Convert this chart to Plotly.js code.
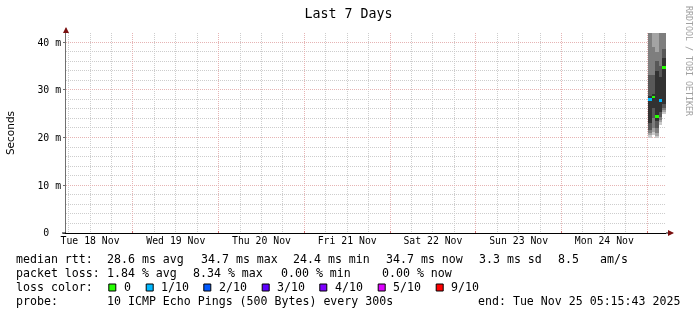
<!DOCTYPE html>
<html>
<head>
<meta charset="utf-8">
<script src="https://cdn.plot.ly/plotly-3.0.1.min.js"></script>
<style>html,body{margin:0;padding:0;background:#fff}#chart{width:697px;height:315px;will-change:transform;opacity:0.999}</style>
</head>
<body>
<div id="chart"></div>
<script>
// ---- data ----
const rangeStart = '2025-11-18 05:15:43';
const rangeEnd = '2025-11-25 05:15:43';
const dayLabels = ['Tue 18 Nov', 'Wed 19 Nov', 'Thu 20 Nov', 'Fri 21 Nov', 'Sat 22 Nov', 'Sun 23 Nov', 'Mon 24 Nov'];
const dayNoons = ['2025-11-18 12:00', '2025-11-19 12:00', '2025-11-20 12:00', '2025-11-21 12:00', '2025-11-22 12:00', '2025-11-23 12:00', '2025-11-24 12:00'];
const midnights = ['2025-11-19 00:00', '2025-11-20 00:00', '2025-11-21 00:00', '2025-11-22 00:00', '2025-11-23 00:00', '2025-11-24 00:00', '2025-11-25 00:00'];
const yTickVals = [0, 10, 20, 30, 40];
const yTickText = ['0\u00a0\u00a0', '10 m', '20 m', '30 m', '40 m'];

// consolidated samples (end time of each 1 h step), sorted ping rtts in ms
const sampleEnd = ['2025-11-25 01:15:43', '2025-11-25 02:15:43', '2025-11-25 03:15:43', '2025-11-25 04:15:43', '2025-11-25 05:15:43'];
const pingsA = [19.8, 20.6, 21.0, 21.6, 23.0, 28.6, 33.0, 45.0, 52.0, 60.0];
const pingsB = [20.6, 21.2, 22.0, 24.0, 26.2, 29.2, 33.0, 39.0, 46.0, 55.0];
const pingsC = [19.9, 20.4, 21.0, 22.0, 23.4, 34.0, 36.0, 38.0, 48.0, 52.0];
const pingsD = [22.6, 23.2, 23.6, 24.2, 25.4, 32.6, 35.0, 44.0, 48.0, 54.0];
const pingsE = [25.0, 25.4, 25.8, 26.2, 27.0, 36.6, 38.5, 45.0, 50.0, 56.0];
const medianRtt = [28.0, 28.5, 24.4, 27.7, 34.7];
const lostPings = [1, 0, 0, 1, 0];

const lossLabels = ['0', '1/10', '2/10', '3/10', '4/10', '5/10', '9/10'];
const lossCounts = [0, 1, 2, 3, 4, 5, 9];
const lossColors = ['#26ff00', '#00b8ff', '#0059ff', '#5e00ff', '#7e00ff', '#dd00ff', '#ff0000'];

const legendLine1 = ['median rtt:', '28.6 ms avg', '34.7 ms max', '24.4 ms min', '34.7 ms now', '3.3 ms sd', '8.5', 'am/s'];
const legendLine2 = ['packet loss:', '1.84 % avg', '8.34 % max', '0.00 % min', '0.00 % now'];
const legendLine3 = ['loss color:'];
const legendLine4 = ['probe:', '10 ICMP Echo Pings (500 Bytes) every 300s', 'end: Tue Nov 25 05:15:43 2025'];

// ---- layout helpers (pixel -> paper) ----
const L = 66, T = 33, W = 600, H = 200;
const px = x => (x - L) / W;
const py = y => (T + H - y) / H;
const MONO = 'DejaVu Sans Mono';

const allPings = [pingsA, pingsB, pingsC, pingsD, pingsE];
const STEP = 3600000;
const traces = [];
const nBands = 5;
for (let b = 0; b < nBands; b++) {
  const shade = Math.round(190 / nBands * (nBands - 1 - b)) + 50;
  const col = 'rgb(' + shade + ',' + shade + ',' + shade + ')';
  traces.push({
    type: 'bar', x: sampleEnd,
    base: allPings.map(p => p[b]),
    y: allPings.map(p => p[p.length - 1 - b] - p[b]),
    width: STEP, offset: -STEP,
    marker: {color: col, line: {width: 0}},
    hoverinfo: 'skip'
  });
}
const medThick = 0.6;
traces.push({
  type: 'bar', x: sampleEnd,
  base: medianRtt.map(m => m - medThick / 2),
  y: medianRtt.map(() => medThick),
  width: STEP, offset: -STEP,
  marker: {color: lostPings.map(n => lossColors[lossCounts.indexOf(n)]), line: {width: 0}},
  hoverinfo: 'skip'
});
// carrier for the label axis
traces.push({type: 'scatter', x: dayNoons, y: dayNoons.map(() => null), xaxis: 'x2', mode: 'markers', hoverinfo: 'skip'});

const annotations = [];
const shapes = [];
function textAt(t, x, y, size, color) {
  annotations.push({xref: 'paper', yref: 'paper', x: px(x), y: py(y), xanchor: 'left', yanchor: 'middle',
    text: t, showarrow: false, borderpad: 0, borderwidth: 0,
    font: {family: MONO, size: size || 11.6, color: color || '#000'}});
}
const line1X = [16.7, 107.3, 201, 293.3, 386.7, 479.3, 558.3, 600];
const line2X = [16.7, 107.3, 193.3, 281, 382.3];
const line4X = [16.7, 107.3, 478.3];
const lineY = [258.6, 272.6, 286.6, 300.6];
legendLine1.forEach((t, i) => textAt(t, line1X[i] - 0.5, lineY[0]));
legendLine2.forEach((t, i) => textAt(t, line2X[i] - 0.5, lineY[1]));
legendLine3.forEach(t => textAt(t, 16.2, lineY[2]));
legendLine4.forEach((t, i) => textAt(t, line4X[i] - 0.5, lineY[3]));
const boxX = [108.3, 145.7, 203.3, 261.7, 319.3, 377.7, 435.7];
lossLabels.forEach((t, i) => {
  shapes.push({type: 'rect', xref: 'paper', yref: 'paper', x0: px(boxX[i] + 0.5), x1: px(boxX[i] + 7.5), y0: py(284), y1: py(291),
    fillcolor: lossColors[i], line: {color: '#000', width: 1}});
  textAt(t, boxX[i] + 15.2, lineY[2]);
});

// watermark
annotations.push({xref: 'paper', yref: 'paper', x: px(689), y: py(61), xanchor: 'center', yanchor: 'middle',
  text: 'RRDTOOL / TOBI OETIKER', textangle: 90, showarrow: false, font: {family: MONO, size: 8.3, color: '#a0a0a0'}});
// axis arrows
shapes.push({type: 'line', xref: 'paper', yref: 'paper', x0: px(666), x1: px(670), y0: py(233), y1: py(233), line: {color: '#000', width: 1}});
shapes.push({type: 'line', xref: 'paper', yref: 'paper', x0: px(62), x1: px(66), y0: py(233), y1: py(233), line: {color: '#000', width: 1}});
shapes.push({type: 'line', xref: 'paper', yref: 'paper', x0: px(66), x1: px(66), y0: py(33), y1: py(30), line: {color: '#707070', width: 1}});
annotations.push({xref: 'paper', yref: 'paper', x: px(674), y: py(233), ax: -6, ay: 0, text: '', showarrow: true,
  arrowhead: 2, arrowsize: 1, arrowwidth: 1.2, arrowcolor: '#7a1010'});
annotations.push({xref: 'paper', yref: 'paper', x: px(66), y: py(27), ax: 0, ay: 6, text: '', showarrow: true,
  arrowhead: 2, arrowsize: 1, arrowwidth: 1.2, arrowcolor: '#7a1010'});

const MAJOR = '#e6b4b4', MINOR = '#cdcdcd', DOTS = '1px,1px';
const layout = {
  width: 697, height: 315,
  margin: {l: L, r: 697 - L - W, t: T, b: 315 - T - H, pad: 0},
  paper_bgcolor: '#fff', plot_bgcolor: '#fff',
  showlegend: false, barmode: 'overlay', bargap: 0,
  title: {text: 'Last 7 Days', x: 0.5, xanchor: 'center', xref: 'container', y: 1 - 13.5 / 315, yref: 'container', yanchor: 'middle',
    font: {family: MONO, size: 13.3, color: '#000'}},
  xaxis: {type: 'date', range: [rangeStart, rangeEnd], tickmode: 'array', tickvals: midnights, showticklabels: false,
    showgrid: true, gridcolor: MAJOR, griddash: DOTS, gridwidth: 1,
    ticks: 'inside', ticklen: 2, tickcolor: '#d07070',
    minor: {tickmode: 'linear', tick0: '2025-11-19 00:00', dtick: 21600000, showgrid: true, gridcolor: MINOR, griddash: DOTS, ticks: ''},
    showline: true, linecolor: '#000', linewidth: 1, zeroline: false, fixedrange: true},
  xaxis2: {type: 'date', overlaying: 'x', anchor: 'y', side: 'bottom', range: [rangeStart, rangeEnd],
    tickmode: 'array', tickvals: dayNoons, ticktext: dayLabels, showgrid: false, ticks: '', showline: false, zeroline: false,
    tickfont: {family: MONO, size: 9.8, color: '#000'}, fixedrange: true},
  yaxis: {range: [0, 41.9], tickmode: 'array', tickvals: yTickVals, ticktext: yTickText,
    tickfont: {family: MONO, size: 9.8, color: '#000'},
    showgrid: true, gridcolor: MAJOR, griddash: DOTS,
    minor: {tickmode: 'linear', tick0: 0, dtick: 2, showgrid: true, gridcolor: MINOR, griddash: DOTS, ticks: ''},
    ticks: 'outside', ticklen: 2, tickcolor: '#707070',
    showline: true, linecolor: '#707070', linewidth: 1, zeroline: false, fixedrange: true,
    title: {text: 'Seconds', standoff: 20, font: {family: 'DejaVu Sans', size: 10.5, color: '#000'}}},
  annotations: annotations,
  shapes: shapes
};
Plotly.newPlot('chart', traces, layout, {staticPlot: true, displayModeBar: false});
</script>
</body>
</html>
